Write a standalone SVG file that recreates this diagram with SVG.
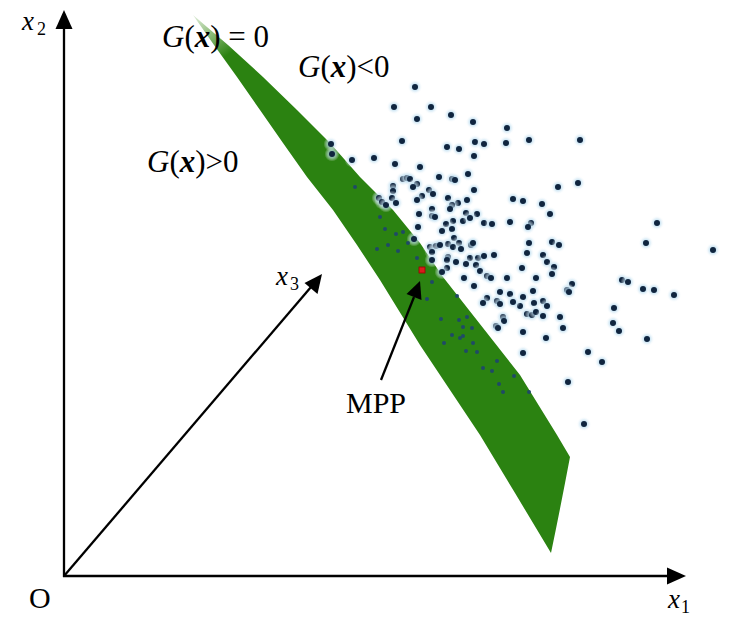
<svg xmlns="http://www.w3.org/2000/svg" width="740" height="628" viewBox="0 0 740 628">
<style>
.ax{stroke:#000;stroke-width:2.3;fill:none}
.ah{fill:#000}
.t{font-family:"Liberation Serif","Times New Roman",serif;font-size:30px;fill:#000}
.g{font-size:31px}
.it{font-style:italic}
.bi{font-style:italic;font-weight:bold}
.lab{font-family:"Liberation Serif","Times New Roman",serif;font-size:27px;font-style:italic;fill:#000}
.sub{font-family:"Liberation Serif","Times New Roman",serif;font-size:18px;fill:#000}
.in{fill:#1f4a66}
</style>
<defs>
<radialGradient id="halo">
<stop offset="0" stop-color="#8cc3e3" stop-opacity="0.9"/>
<stop offset="0.55" stop-color="#c6e2f2" stop-opacity="0.6"/>
<stop offset="1" stop-color="#ffffff" stop-opacity="0"/>
</radialGradient>
<linearGradient id="tip" gradientUnits="userSpaceOnUse" x1="193" y1="15" x2="255" y2="100">
<stop offset="0" stop-color="#e3efde"/>
<stop offset="0.25" stop-color="#8bbb77"/>
<stop offset="0.5" stop-color="#2b8211"/>
<stop offset="1" stop-color="#2b8211"/>
</linearGradient>
<g id="d"><circle r="7.5" fill="url(#halo)"/><circle r="3" fill="#10253f"/></g>
</defs>
<rect width="740" height="628" fill="#fff"/>

<g id="band">
<path d="M193,15 L214,45 L237,77 L260,110 L283,143 L307,177 L333,210 L357,245 L380,280 L420,345 L480,435 L515,493 L551,553 Q560,510 570,457 L557,435 L520,375 L443,277 L420,243 L393,210 L360,177 L330,143 L297,110 L263,77 L228,45 Z" fill="url(#tip)"/>
</g>

<g id="outer-points">
<use href="#d" x="415" y="87"/><use href="#d" x="394" y="107"/><use href="#d" x="431" y="107"/><use href="#d" x="417" y="119"/><use href="#d" x="451" y="115"/><use href="#d" x="473" y="122"/><use href="#d" x="507" y="128"/><use href="#d" x="402" y="141"/><use href="#d" x="475" y="142"/><use href="#d" x="484" y="144"/><use href="#d" x="506" y="143"/><use href="#d" x="447" y="147"/><use href="#d" x="459" y="149"/><use href="#d" x="331" y="144"/><use href="#d" x="332" y="154"/><use href="#d" x="352" y="160"/><use href="#d" x="374" y="158"/><use href="#d" x="474" y="156"/><use href="#d" x="395" y="164"/><use href="#d" x="420" y="167"/><use href="#d" x="468" y="174"/><use href="#d" x="439" y="177"/><use href="#d" x="403" y="179"/><use href="#d" x="407" y="178"/><use href="#d" x="410" y="179"/><use href="#d" x="452" y="179"/><use href="#d" x="455" y="180"/><use href="#d" x="393" y="186"/><use href="#d" x="417" y="184"/><use href="#d" x="413" y="187"/><use href="#d" x="474" y="190"/><use href="#d" x="393" y="191"/><use href="#d" x="429" y="190"/><use href="#d" x="433" y="194"/><use href="#d" x="422" y="196"/><use href="#d" x="417" y="200"/><use href="#d" x="379" y="198"/><use href="#d" x="382" y="202"/><use href="#d" x="386" y="205"/><use href="#d" x="392" y="198"/><use href="#d" x="396" y="203"/><use href="#d" x="448" y="198"/><use href="#d" x="458" y="203"/><use href="#d" x="467" y="200"/><use href="#d" x="513" y="199"/><use href="#d" x="452" y="205"/><use href="#d" x="450" y="209"/><use href="#d" x="432" y="209"/><use href="#d" x="419" y="214"/><use href="#d" x="432" y="216"/><use href="#d" x="435" y="217"/><use href="#d" x="466" y="213"/><use href="#d" x="477" y="214"/><use href="#d" x="453" y="221"/><use href="#d" x="463" y="221"/><use href="#d" x="470" y="218"/><use href="#d" x="484" y="223"/><use href="#d" x="492" y="224"/><use href="#d" x="510" y="222"/><use href="#d" x="418" y="227"/><use href="#d" x="446" y="224"/><use href="#d" x="452" y="229"/><use href="#d" x="442" y="231"/><use href="#d" x="414" y="239"/><use href="#d" x="454" y="238"/><use href="#d" x="448" y="244"/><use href="#d" x="459" y="243"/><use href="#d" x="453" y="247"/><use href="#d" x="461" y="249"/><use href="#d" x="471" y="245"/><use href="#d" x="473" y="243"/><use href="#d" x="430" y="247"/><use href="#d" x="436" y="246"/><use href="#d" x="440" y="245"/><use href="#d" x="432" y="252"/><use href="#d" x="470" y="258"/><use href="#d" x="478" y="258"/><use href="#d" x="484" y="256"/><use href="#d" x="494" y="255"/><use href="#d" x="448" y="257"/>
<use href="#d" x="529" y="140"/><use href="#d" x="580" y="140"/><use href="#d" x="558" y="187"/><use href="#d" x="578" y="183"/><use href="#d" x="523" y="201"/><use href="#d" x="542" y="204"/><use href="#d" x="550" y="214"/><use href="#d" x="531" y="223"/><use href="#d" x="528" y="227"/><use href="#d" x="529" y="243"/><use href="#d" x="552" y="242"/><use href="#d" x="559" y="245"/><use href="#d" x="527" y="253"/><use href="#d" x="543" y="255"/><use href="#d" x="657" y="223"/><use href="#d" x="646" y="243"/><use href="#d" x="713" y="250"/>
<use href="#d" x="547" y="262"/><use href="#d" x="554" y="267"/><use href="#d" x="522" y="268"/><use href="#d" x="552" y="274"/><use href="#d" x="536" y="278"/><use href="#d" x="622" y="280"/><use href="#d" x="628" y="282"/><use href="#d" x="643" y="289"/><use href="#d" x="654" y="290"/><use href="#d" x="674" y="295"/><use href="#d" x="572" y="284"/><use href="#d" x="567" y="290"/><use href="#d" x="569" y="292"/><use href="#d" x="533" y="291"/><use href="#d" x="523" y="297"/><use href="#d" x="543" y="301"/><use href="#d" x="547" y="306"/><use href="#d" x="534" y="303"/><use href="#d" x="520" y="306"/><use href="#d" x="527" y="314"/><use href="#d" x="532" y="315"/><use href="#d" x="536" y="312"/><use href="#d" x="543" y="316"/><use href="#d" x="560" y="317"/><use href="#d" x="563" y="328"/><use href="#d" x="523" y="332"/><use href="#d" x="546" y="338"/><use href="#d" x="614" y="308"/><use href="#d" x="613" y="323"/><use href="#d" x="619" y="331"/><use href="#d" x="647" y="339"/><use href="#d" x="523" y="353"/><use href="#d" x="588" y="352"/><use href="#d" x="602" y="362"/><use href="#d" x="568" y="382"/><use href="#d" x="584" y="424"/>
<use href="#d" x="432" y="260"/><use href="#d" x="447" y="260"/><use href="#d" x="456" y="262"/><use href="#d" x="447" y="268"/><use href="#d" x="442" y="272"/><use href="#d" x="466" y="264"/><use href="#d" x="476" y="265"/><use href="#d" x="464" y="278"/><use href="#d" x="480" y="271"/><use href="#d" x="487" y="276"/><use href="#d" x="491" y="278"/><use href="#d" x="474" y="286"/><use href="#d" x="507" y="278"/><use href="#d" x="500" y="292"/><use href="#d" x="510" y="294"/><use href="#d" x="487" y="298"/><use href="#d" x="483" y="303"/><use href="#d" x="497" y="301"/><use href="#d" x="500" y="304"/><use href="#d" x="513" y="302"/><use href="#d" x="503" y="317"/><use href="#d" x="504" y="321"/><use href="#d" x="496" y="326"/><use href="#d" x="498" y="328"/>
</g>

<g id="inner-points" class="in">
<circle cx="355" cy="187" r="2"/><circle cx="380" cy="217" r="2"/><circle cx="385" cy="229" r="2"/><circle cx="396" cy="234" r="2"/><circle cx="403" cy="232" r="2"/><circle cx="388" cy="245" r="2"/><circle cx="377" cy="249" r="2"/><circle cx="398" cy="251" r="2"/><circle cx="408" cy="243" r="2"/><circle cx="417" cy="258" r="2"/><circle cx="432" cy="282" r="2"/><circle cx="427" cy="299" r="2"/><circle cx="441" cy="319" r="2"/><circle cx="459" cy="320" r="2"/><circle cx="467" cy="317" r="2"/><circle cx="463" cy="327" r="2"/><circle cx="472" cy="328" r="2"/><circle cx="452" cy="335" r="2"/><circle cx="460" cy="338" r="2"/><circle cx="463" cy="336" r="2"/><circle cx="444" cy="343" r="2"/><circle cx="473" cy="343" r="2"/><circle cx="466" cy="351" r="2"/><circle cx="477" cy="352" r="2"/><circle cx="497" cy="361" r="2"/><circle cx="483" cy="368" r="2"/><circle cx="492" cy="371" r="2"/><circle cx="514" cy="376" r="2"/><circle cx="499" cy="384" r="2"/><circle cx="503" cy="392" r="2"/><circle cx="457" cy="296" r="2"/><circle cx="529" cy="392" r="2"/>
</g>

<g id="mpp-point">
<rect x="419" y="267" width="6" height="6" fill="#d81c1c" stroke="#900" stroke-width="0.8"/>
</g>

<g id="connectors">
<line class="ax" x1="64" y1="577" x2="64" y2="26"/>
<polygon class="ah" points="64,10 55.5,29 72.5,29"/>
<line class="ax" x1="63" y1="576" x2="670" y2="576"/>
<polygon class="ah" points="686,576 667,567.5 667,584.5"/>
<line class="ax" x1="64" y1="576" x2="311" y2="287"/>
<polygon class="ah" points="322,274 317.5,294 304.5,283"/>
<line class="ax" x1="381" y1="380" x2="414" y2="297"/>
<polygon class="ah" points="420,281 421.5,300 406.5,294"/>
</g>

<g id="labels">
<text class="lab" x="22" y="30">x</text><text class="sub" x="37" y="35">2</text>
<text class="lab" x="276" y="285">x</text><text class="sub" x="290" y="290">3</text>
<text class="lab" x="668" y="608">x</text><text class="sub" x="681" y="613">1</text>
<text class="t" x="29" y="608">O</text>
<text class="t g" x="162" y="47"><tspan class="it">G</tspan>(<tspan class="bi">x</tspan>) = 0</text>
<text class="t g" x="298" y="77"><tspan class="it">G</tspan>(<tspan class="bi">x</tspan>)&lt;0</text>
<text class="t g" x="147" y="172"><tspan class="it">G</tspan>(<tspan class="bi">x</tspan>)&gt;0</text>
<text class="t" x="346" y="413">MPP</text>
</g>
</svg>
